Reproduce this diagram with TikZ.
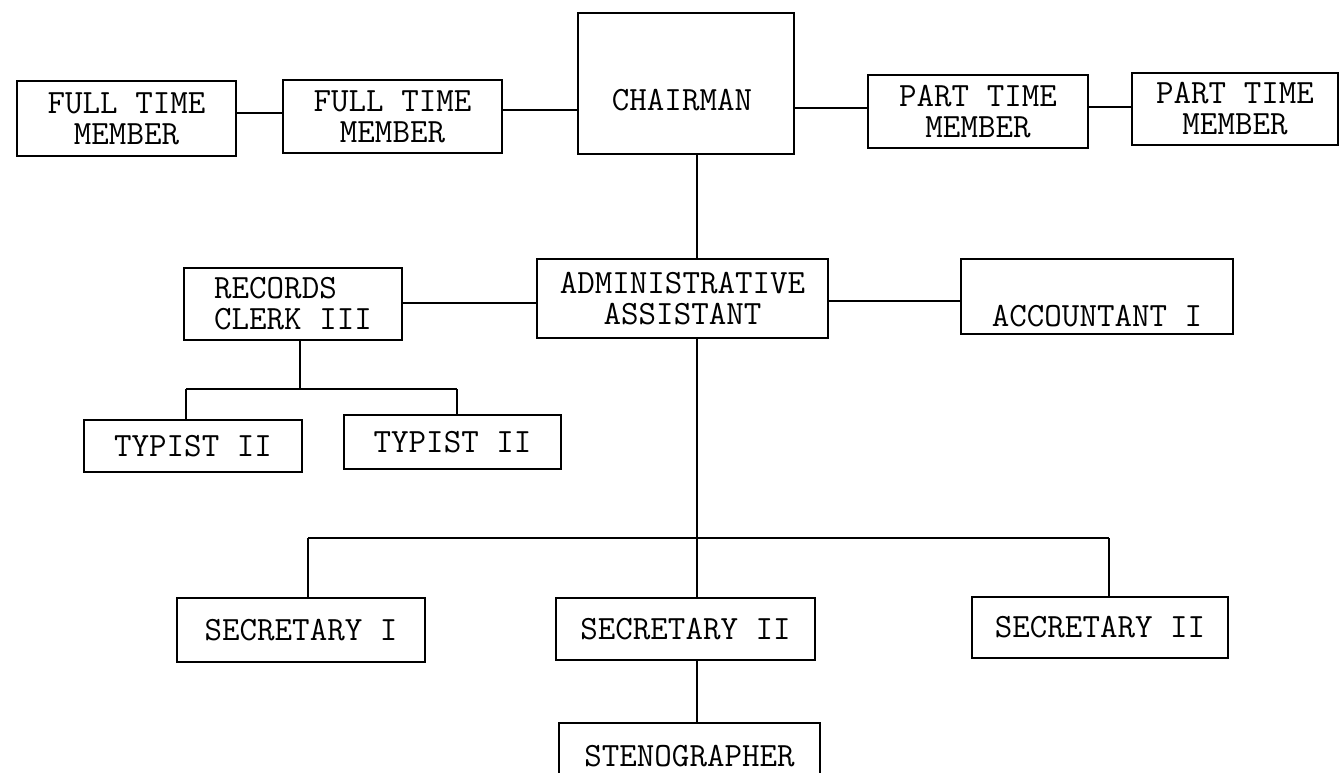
\documentclass[tikz,border=0pt]{standalone}
\begin{document}
\begin{tikzpicture}[x=1pt,y=-1pt,
  box/.style={draw, line width=1.6pt, rectangle, inner sep=0pt, align=center,
    font=\ttfamily\fontsize{34}{31}\selectfont},
  conn/.style={line width=1.5pt},
  vconn/.style={line width=1.1pt},
  lbl/.style={font=\ttfamily\fontsize{34}{31}\selectfont, inner sep=0pt}]
\useasboundingbox (0,0) rectangle (1341,772);
% top row
\node[box, minimum width=219pt, minimum height=75pt] (ft1) at (126.5,118.5) {FULL TIME\\MEMBER};
\node[box, minimum width=219pt, minimum height=73pt] (ft2) at (392.5,116.5) {FULL TIME\\MEMBER};
\node[box, minimum width=216pt, minimum height=141pt,
  label={[lbl, yshift=-17pt, xshift=-4pt]center:CHAIRMAN}] (ch) at (686,83.5) {};
\node[box, minimum width=220pt, minimum height=73pt] (pt1) at (978,111.5) {PART TIME\\MEMBER};
\node[box, minimum width=206pt, minimum height=72pt] (pt2) at (1235,109) {PART TIME\\MEMBER};
% middle row
\node[box, minimum width=218pt, minimum height=72pt, align=left] (rec) at (293,304) {RECORDS\\CLERK III};
\node[box, minimum width=291pt, minimum height=79pt] (adm) at (682.5,298.5) {ADMINISTRATIVE\\ASSISTANT};
\node[box, minimum width=272pt, minimum height=75pt,
  label={[lbl, yshift=-19.5pt]center:ACCOUNTANT I}] (acc) at (1097,296.5) {};
\node[box, minimum width=218pt, minimum height=52pt] (ty1) at (193,446) {TYPIST II};
\node[box, minimum width=217pt, minimum height=54pt] (ty2) at (452.5,442) {TYPIST II};
% bottom rows
\node[box, minimum width=248pt, minimum height=64pt] (s1) at (301,630) {SECRETARY I};
\node[box, minimum width=259pt, minimum height=62pt] (s2) at (685.5,629) {SECRETARY II};
\node[box, minimum width=256pt, minimum height=61pt] (s3) at (1100,627.5) {SECRETARY II};
\node[box, minimum width=261pt, minimum height=67pt] (st) at (689.5,756.5) {STENOGRAPHER};
% helper coordinates
\coordinate (h1) at (0,113);
\coordinate (h2) at (0,110);
\coordinate (h3) at (0,108);
\coordinate (h4) at (0,107);
\coordinate (h5) at (0,303);
\coordinate (h6) at (0,301);
\coordinate (v) at (697,0);
\coordinate (bl) at (308,538);
\coordinate (br) at (1109,538);
\coordinate (tm) at (300,389);
\coordinate (tl) at (186,389);
\coordinate (tr) at (457,389);
% connectors
\draw[conn] (ft1.east |- h1) -- (ft2.west |- h1);
\draw[conn] (ft2.east |- h2) -- (ch.west |- h2);
\draw[conn] (ch.east |- h3) -- (pt1.west |- h3);
\draw[conn] (pt1.east |- h4) -- (pt2.west |- h4);
\draw[conn] (rec.east |- h5) -- (adm.west |- h5);
\draw[conn] (adm.east |- h6) -- (acc.west |- h6);
\draw[vconn] (ch.south -| v) -- (adm.north -| v);
\draw[vconn] (adm.south -| v) -- (s2.north -| v);
\draw[vconn] (s2.south -| v) -- (st.north -| v);
\draw[conn] (bl) -- (br);
\draw[vconn] (bl) -- (s1.north -| bl);
\draw[vconn] (br) -- (s3.north -| br);
\draw[vconn] (rec.south -| tm) -- (tm);
\draw[conn] (tl) -- (tr);
\draw[vconn] (tl) -- (ty1.north -| tl);
\draw[vconn] (tr) -- (ty2.north -| tr);
\end{tikzpicture}
\end{document}
